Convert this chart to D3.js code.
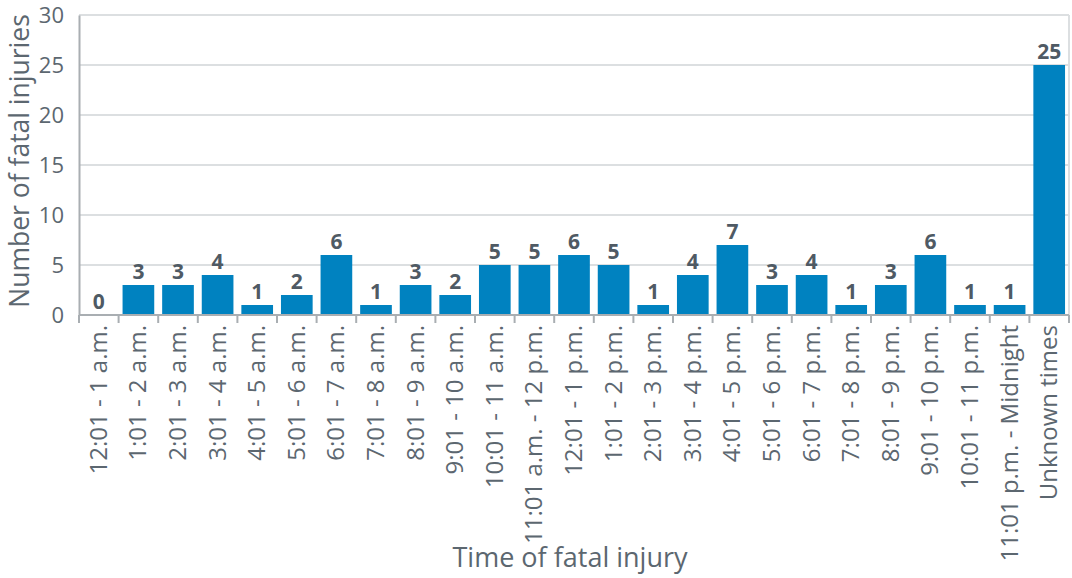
<!DOCTYPE html>
<html>
<head>
<meta charset="utf-8">
<script src="https://cdn.jsdelivr.net/npm/d3@7"></script>
<style>
  body { margin: 0; background: #fff; }
  text { font-family: "Open Sans", sans-serif; }
</style>
</head>
<body>
<div id="chart"></div>
<script>
"use strict"

const categories = [
  "12:01 - 1 a.m.", "1:01 - 2 a.m.", "2:01 - 3 a.m.", "3:01 - 4 a.m.", "4:01 - 5 a.m.",
  "5:01 - 6 a.m.", "6:01 - 7 a.m.", "7:01 - 8 a.m.", "8:01 - 9 a.m.", "9:01 - 10 a.m.",
  "10:01 - 11 a.m.", "11:01 a.m. - 12 p.m.", "12:01 - 1 p.m.", "1:01 - 2 p.m.", "2:01 - 3 p.m.",
  "3:01 - 4 p.m.", "4:01 - 5 p.m.", "5:01 - 6 p.m.", "6:01 - 7 p.m.", "7:01 - 8 p.m.",
  "8:01 - 9 p.m.", "9:01 - 10 p.m.", "10:01 - 11 p.m.", "11:01 p.m. - Midnight", "Unknown times"
];
const values = [0, 3, 3, 4, 1, 2, 6, 1, 3, 2, 5, 5, 6, 5, 1, 4, 7, 3, 4, 1, 3, 6, 1, 1, 25];
const yTicks = [0, 5, 10, 15, 20, 25, 30];

let margin = {top: 15, right: 3, bottom: 263, left: 79};
let width = 1072 - margin.left - margin.right,
    height = 578 - margin.top - margin.bottom;

let svg = d3.select("#chart")
  .append("svg")
  .attr("width", 1072)
  .attr("height", 578)
  .append("g")
  .attr("transform", "translate(" + margin.left + "," + margin.top + ")");

let x = d3.scaleBand()
  .domain(categories)
  .range([0, width])
  .paddingInner(0.2)
  .paddingOuter(0.1);

let y = d3.scaleLinear()
  .domain([0, 30])
  .range([height, 0]);

// gridlines
svg.append("g")
  .selectAll("line")
  .data(yTicks.filter(d => d > 0))
  .enter().append("line")
  .attr("x1", 0)
  .attr("x2", width)
  .attr("y1", d => y(d))
  .attr("y2", d => y(d))
  .style("stroke", "#dcdfe1")
  .style("stroke-width", 2);

// right frame
svg.append("line")
  .attr("x1", width).attr("x2", width)
  .attr("y1", 0).attr("y2", height)
  .style("stroke", "#dcdfe1")
  .style("stroke-width", 2);

// y axis
let yAxis = svg.append("g")
  .call(d3.axisLeft(y).tickValues(yTicks).tickSize(0).tickPadding(15));
yAxis.select(".domain").style("stroke", "#a9aeb2").style("stroke-width", 2);
yAxis.selectAll("text")
  .style("font-size", "22px")
  .style("fill", "#5c6770");

// bars
svg.append("g")
  .selectAll("rect")
  .data(values)
  .enter().append("rect")
  .attr("x", (d, i) => x(categories[i]))
  .attr("y", d => y(d))
  .attr("width", x.bandwidth())
  .attr("height", d => height - y(d))
  .style("fill", "#0082c0");

// value labels
svg.append("g")
  .selectAll("text")
  .data(values)
  .enter().append("text")
  .attr("x", (d, i) => x(categories[i]) + x.bandwidth() / 2)
  .attr("y", d => y(d) - 6)
  .attr("text-anchor", "middle")
  .style("font-size", "21px")
  .style("font-weight", "bold")
  .style("fill", "#4f5a64")
  .text(d => d);

// x axis
let step = x.step();
let xAxis = svg.append("g")
  .attr("transform", "translate(0," + height + ")");
xAxis.append("line")
  .attr("x1", 0).attr("x2", width)
  .style("stroke", "#a9aeb2")
  .style("stroke-width", 2);
xAxis.selectAll(".tick-mark")
  .data(d3.range(categories.length + 1))
  .enter().append("line")
  .attr("class", "tick-mark")
  .attr("x1", i => i * step)
  .attr("x2", i => i * step)
  .attr("y1", 0)
  .attr("y2", 8)
  .style("stroke", "#a9aeb2")
  .style("stroke-width", 2);
xAxis.selectAll(".xlabel")
  .data(categories)
  .enter().append("text")
  .attr("class", "xlabel")
  .attr("transform", d => "translate(" + (x(d) + x.bandwidth() / 2 + 8) + ",10) rotate(-90)")
  .attr("text-anchor", "end")
  .style("font-size", "24px")
  .style("fill", "#5c6770")
  .text(d => d);

// axis titles
svg.append("text")
  .attr("transform", "translate(-50," + (height / 2 - 4) + ") rotate(-90)")
  .attr("text-anchor", "middle")
  .style("font-size", "26.5px")
  .style("fill", "#5c6770")
  .text("Number of fatal injuries");

svg.append("text")
  .attr("x", (width / 2) - 4)
  .attr("y", height + 252)
  .attr("text-anchor", "middle")
  .style("font-size", "27px")
  .style("fill", "#5c6770")
  .text("Time of fatal injury");
</script>
</body>
</html>
